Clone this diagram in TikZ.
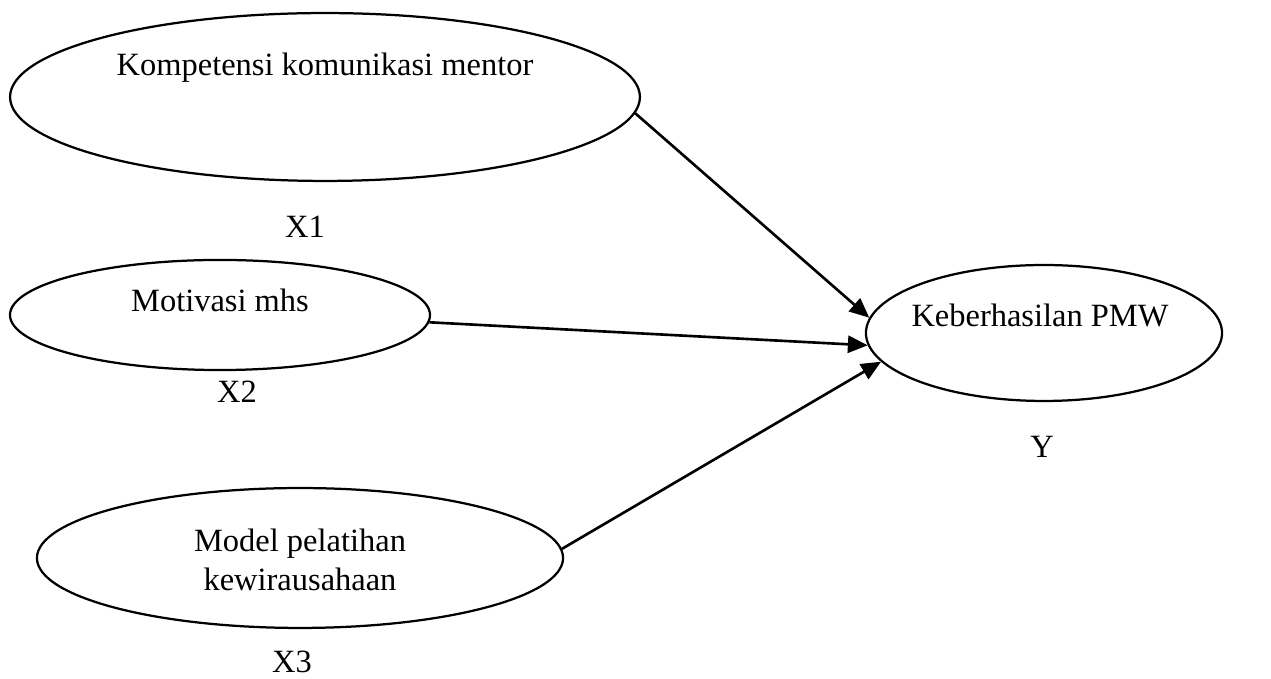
\documentclass[tikz,border=0pt]{standalone}
\usepackage{fontspec}
\setmainfont{Liberation Serif}
\usetikzlibrary{shapes.geometric,arrows.meta}
\tikzset{
  oval/.style={draw, ellipse, line width=0.85pt, inner sep=0pt},
  txt/.style={font=\fontsize{12.3pt}{15pt}\selectfont, align=center, inner sep=0pt},
  panah/.style={line width=1pt, -{Triangle[length=7.5pt,width=6.5pt]}}
}
\begin{document}
\begin{tikzpicture}[x=0.3788pt, y=-0.3788pt]
    \useasboundingbox (0,0) rectangle (1271,679);

    % Variabel X1
    \node[oval, minimum width=238.6pt, minimum height=63.6pt] (komp) at (325,97) {};
    \node[txt] (kompt) at (325,68) {Kompetensi komunikasi mentor};
    \node[txt] (x1) at (305,227) {X1};

    % Variabel X2
    \node[oval, minimum width=159.1pt, minimum height=41.7pt] (motiv) at (220,315) {};
    \node[txt] (motivt) at (220,300) {Motivasi mhs};
    \node[txt] (x2) at (237,392) {X2};

    % Variabel X3
    \node[oval, minimum width=199.3pt, minimum height=53pt] (model) at (300,558) {};
    \node[txt] (modelt) at (300,560) {Model pelatihan\\kewirausahaan};
    \node[txt] (x3) at (292,662) {X3};

    % Variabel Y
    \node[oval, minimum width=134.9pt, minimum height=51.5pt] (hasil) at (1044,333) {};
    \node[txt] (hasilt) at (1040,315) {Keberhasilan PMW};
    \node[txt] (y) at (1042,447) {Y};

    % Panah pengaruh
    \draw[panah] (komp.-3) -- (hasil.175);
    \draw[panah] (motiv.-2) -- (hasil.184);
    \draw[panah] (model.2) -- (hasil.190);
\end{tikzpicture}
\end{document}
